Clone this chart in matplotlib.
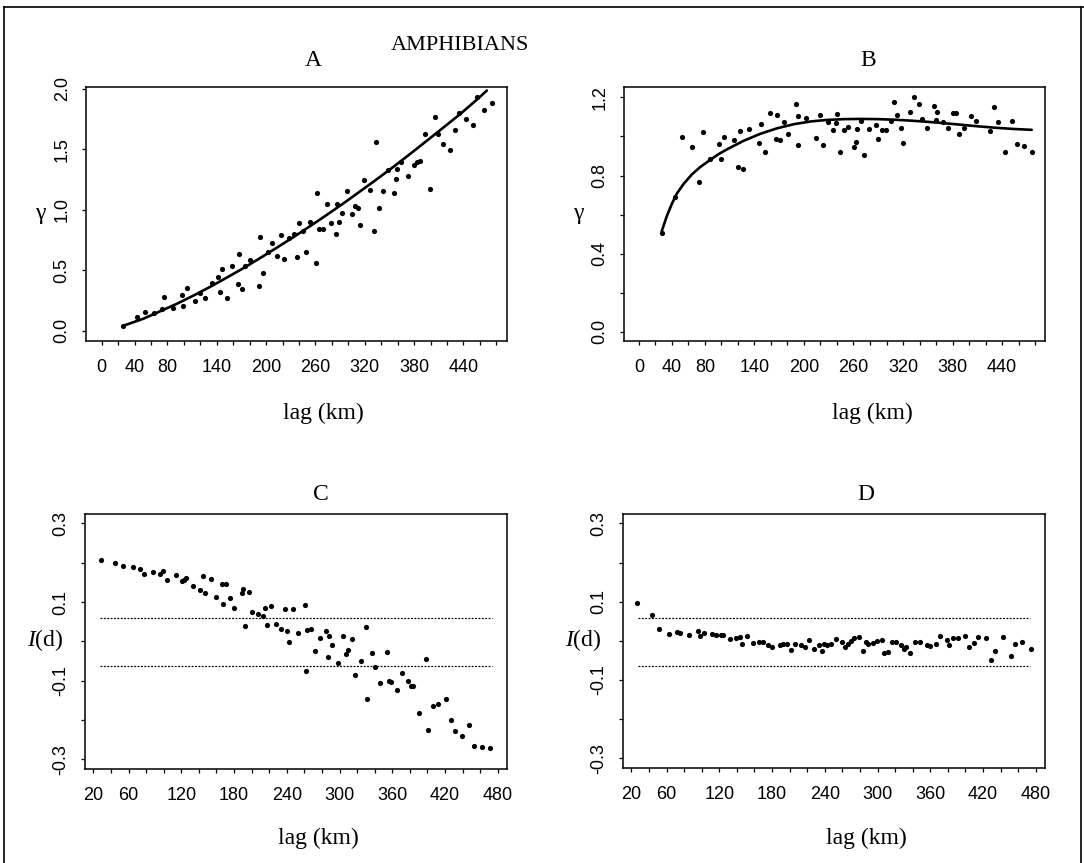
import numpy as np
import matplotlib
matplotlib.use("Agg")
import matplotlib.pyplot as plt
from matplotlib.lines import Line2D

plt.rcParams['mathtext.fontset'] = 'custom'
plt.rcParams['mathtext.rm'] = 'Liberation Serif'
plt.rcParams['mathtext.it'] = 'Liberation Serif:italic'

SERIF = 'Liberation Serif'
SANS = 'Liberation Sans'

# ---- panel A : semivariogram (raw data) ----
a_lag = [26.4, 43.4, 52.7, 64.1, 73.0, 76.3, 87.2, 97.4, 99.4, 103.4, 113.6, 119.7, 125.8,
         133.9, 142.0, 144.0, 146.9, 152.1, 159.0, 165.5, 167.1, 170.4, 174.4, 180.5, 191.5,
         192.7, 196.8, 202.8, 207.7, 213.8, 218.3, 222.3, 228.4, 234.5, 238.1, 240.2, 244.6,
         248.3, 253.5, 260.8, 261.7, 264.9, 269.0, 273.8, 278.7, 285.2, 286.8, 289.2, 292.1,
         298.2, 304.3, 308.3, 311.6, 314.4, 318.5, 325.8, 331.4, 333.9, 337.9, 342.0, 347.7,
         355.0, 357.8, 359.8, 363.9, 373.2, 380.1, 383.4, 386.6, 392.7, 398.8, 404.9, 408.9,
         414.6, 423.9, 429.2, 434.1, 443.0, 451.1, 456.4, 465.3, 474.6]
a_gamma = [0.041, 0.110, 0.151, 0.143, 0.176, 0.275, 0.184, 0.294, 0.204, 0.349, 0.248, 0.308,
           0.272, 0.396, 0.446, 0.316, 0.514, 0.267, 0.536, 0.385, 0.630, 0.344, 0.536, 0.583,
           0.371, 0.776, 0.481, 0.652, 0.729, 0.619, 0.795, 0.594, 0.770, 0.803, 0.613, 0.894,
           0.825, 0.652, 0.900, 0.556, 1.142, 0.839, 0.839, 1.051, 0.894, 0.803, 1.051, 0.900,
           0.974, 1.155, 0.963, 1.032, 1.015, 0.875, 1.249, 1.161, 0.820, 1.560, 1.015, 1.153,
           1.326, 1.139, 1.257, 1.340, 1.395, 1.276, 1.367, 1.395, 1.400, 1.623, 1.169, 1.766,
           1.629, 1.546, 1.491, 1.656, 1.802, 1.747, 1.703, 1.931, 1.821, 1.884]
a_fit_lag = [26.4, 50.7, 71.0, 91.3, 111.6, 131.8, 152.0, 172.4, 192.7, 213.0, 233.0, 253.5,
             274.0, 294.0, 314.0, 334.7, 355.0, 375.0, 395.5, 415.8, 436.0, 456.4, 468.5]
a_fit = [0.041, 0.099, 0.160, 0.222, 0.290, 0.362, 0.438, 0.517, 0.600, 0.686, 0.772, 0.864,
         0.958, 1.052, 1.150, 1.252, 1.355, 1.460, 1.570, 1.680, 1.790, 1.910, 1.985]

# ---- panel B : semivariogram (residuals) ----
b_lag = [27.6, 43.8, 52.7, 64.5, 73.4, 77.5, 86.4, 97.0, 99.8, 103.4, 114.8, 120.0, 123.0,
         126.0, 134.0, 146.0, 148.0, 153.0, 159.0, 166.0, 167.5, 171.0, 175.7, 180.5, 190.0,
         192.7, 192.7, 203.0, 214.0, 219.0, 223.0, 229.6, 235.7, 238.5, 239.8, 243.8, 248.7,
         253.6, 261.0, 263.0, 264.0, 269.0, 273.0, 279.0, 287.0, 290.0, 294.0, 299.0, 306.0,
         309.5, 312.8, 317.0, 320.0, 328.0, 333.0, 339.0, 343.0, 349.0, 357.4, 359.4, 361.5,
         368.0, 374.4, 380.5, 384.6, 387.8, 393.5, 402.0, 409.0, 425.0, 430.4, 435.3, 443.4,
         452.5, 458.0, 466.5, 476.5]
b_gamma = [0.504, 0.692, 0.995, 0.945, 0.769, 1.022, 0.885, 0.961, 0.884, 0.997, 0.983, 0.846,
           1.026, 0.832, 1.039, 0.969, 1.065, 0.918, 1.120, 0.986, 1.108, 0.980, 1.074, 1.014,
           1.166, 1.106, 0.957, 1.097, 0.991, 1.111, 0.954, 1.074, 1.031, 1.068, 1.115, 0.918,
           1.031, 1.048, 0.945, 0.974, 1.038, 1.077, 0.906, 1.038, 1.060, 0.986, 1.031, 1.031,
           1.077, 1.176, 1.111, 1.043, 0.969, 1.125, 1.200, 1.166, 1.089, 1.043, 1.154, 1.086,
           1.128, 1.074, 1.046, 1.120, 1.120, 1.012, 1.043, 1.103, 1.077, 1.026, 1.149, 1.074,
           0.921, 1.081, 0.962, 0.950, 0.922]
b_fit_lag = [27.6, 33.7, 39.8, 45.8, 54.0, 64.1, 74.2, 86.4, 96.0, 106.7, 127.0, 147.3, 167.5,
             187.8, 208.1, 228.4, 249.0, 269.0, 289.0, 309.5, 330.0, 350.1, 370.0, 390.7,
             411.0, 431.2, 452.0, 475.9]
b_fit = [0.513, 0.590, 0.653, 0.706, 0.756, 0.805, 0.843, 0.880, 0.908, 0.934, 0.978, 1.014,
         1.042, 1.063, 1.077, 1.085, 1.089, 1.090, 1.089, 1.086, 1.081, 1.075, 1.068, 1.060,
         1.052, 1.045, 1.039, 1.034]

# ---- panel C : Moran's I correlogram (raw data) ----
c_lag = [28.7, 44.6, 53.4, 64.7, 73.0, 78.0, 87.5, 95.8, 99.6, 104.0, 114.0, 120.5, 123.0,
         125.4, 133.7, 141.0, 145.0, 147.0, 153.5, 159.0, 166.0, 168.0, 171.0, 175.5, 180.0,
         188.7, 190.6, 192.5, 197.0, 201.0, 207.7, 213.0, 215.0, 218.0, 221.7, 227.8, 234.0,
         238.0, 240.0, 243.0, 247.5, 252.4, 260.8, 262.0, 262.7, 267.0, 272.0, 278.0, 284.6,
         286.5, 288.4, 292.0, 298.0, 303.6, 307.4, 310.0, 314.0, 317.6, 325.0, 330.0, 331.7,
         336.6, 340.4, 346.0, 354.4, 356.7, 358.6, 365.0, 370.7, 377.5, 381.0, 384.0, 390.8,
         398.0, 401.0, 406.7, 411.7, 421.0, 426.4, 431.4, 439.0, 447.7, 453.4, 461.7, 471.0]
c_moran = [0.206, 0.199, 0.192, 0.189, 0.184, 0.172, 0.177, 0.172, 0.178, 0.155, 0.169, 0.153,
           0.157, 0.160, 0.140, 0.130, 0.165, 0.123, 0.158, 0.113, 0.147, 0.096, 0.147, 0.110,
           0.085, 0.123, 0.134, 0.040, 0.125, 0.075, 0.070, 0.065, 0.085, 0.041, 0.091, 0.044,
           0.032, 0.082, 0.027, -0.003, 0.082, 0.020, 0.092, -0.076, 0.028, 0.031, -0.024,
           0.008, 0.025, -0.041, 0.013, -0.010, -0.055, 0.013, -0.032, -0.023, 0.006, -0.086,
           -0.051, 0.036, -0.148, -0.031, -0.066, -0.106, -0.028, -0.100, -0.104, -0.125,
           -0.081, -0.102, -0.113, -0.114, -0.182, -0.045, -0.227, -0.165, -0.159, -0.146,
           -0.201, -0.229, -0.242, -0.214, -0.267, -0.269, -0.271]

# ---- panel D : Moran's I correlogram (residuals) ----
d_lag = [26.9, 43.0, 51.7, 63.2, 71.6, 75.8, 85.4, 95.7, 97.6, 102.2, 112.0, 116.7, 122.5,
         124.4, 132.0, 139.0, 143.5, 145.4, 152.0, 158.0, 165.7, 170.3, 175.0, 180.0, 188.6,
         193.0, 197.0, 201.6, 206.6, 213.0, 218.0, 222.0, 227.6, 233.4, 237.0, 239.0, 243.0,
         247.6, 252.5, 260.0, 262.8, 266.0, 269.7, 273.5, 278.5, 284.0, 286.9, 289.6, 294.6,
         299.5, 304.9, 307.9, 311.8, 316.4, 320.6, 326.3, 330.0, 332.8, 336.6, 343.0, 348.0,
         355.8, 359.6, 366.0, 371.0, 378.7, 381.4, 386.3, 392.0, 399.7, 404.3, 409.3, 414.2,
         423.8, 429.0, 434.0, 442.6, 451.3, 455.9, 464.7, 474.3]
d_moran = [0.097, 0.066, 0.030, 0.017, 0.023, 0.020, 0.015, 0.026, 0.013, 0.020, 0.017, 0.015,
           0.015, 0.015, 0.004, 0.006, 0.009, -0.007, 0.011, -0.006, -0.003, -0.003, -0.010,
           -0.015, -0.010, -0.009, -0.007, -0.023, -0.009, -0.011, -0.015, 0.002, -0.020,
           -0.010, -0.026, -0.009, -0.010, -0.009, 0.004, -0.002, -0.017, -0.009, 0.000, 0.006,
           0.009, -0.026, -0.003, -0.009, -0.006, 0.000, 0.002, -0.032, -0.028, -0.003, -0.004,
           -0.010, -0.021, -0.017, -0.030, -0.003, -0.002, -0.010, -0.013, -0.007, 0.013, 0.003,
           -0.010, 0.006, 0.007, 0.013, -0.017, -0.006, 0.010, 0.006, -0.050, -0.026, 0.009,
           -0.038, -0.009, -0.002, -0.021]

# significance bounds of Moran's I
sig_upper = 0.059
sig_lower = -0.064
sig_span = [27.0, 474.0]

ab_ticks = list(range(0, 481, 20))
ab_labels = ['0', '40', '80', '140', '200', '260', '320', '380', '440']
cd_ticks = list(range(20, 481, 20))
cd_labels = ['20', '60', '120', '180', '240', '300', '360', '420', '480']

W, H = 1084, 863
fig = plt.figure(figsize=(W / 100, H / 100), dpi=100)


def add_ax(left, top, right, bottom):
    return fig.add_axes([left / W, 1 - bottom / H, (right - left) / W, (bottom - top) / H])


axA = add_ax(86, 87.5, 507, 341)
axB = add_ax(624, 87.5, 1045, 341)
axC = add_ax(85, 514, 507, 769)
axD = add_ax(623, 514, 1045, 768)


def style(ax, xticks, xlabels):
    for s in ax.spines.values():
        s.set_linewidth(1.1)
    ax.set_xticks(xticks)
    ax.set_xticklabels([t if str(t) in xlabels else '' for t in xticks])
    ax.tick_params(direction='out', length=3, width=0.9, labelsize=13, colors='black')
    ax.tick_params(axis='x', pad=10)
    ax.tick_params(axis='y', pad=8)
    for lab in ax.get_xticklabels() + ax.get_yticklabels():
        lab.set_fontfamily(SANS)
    for lab in ax.get_yticklabels():
        lab.set_rotation(90)
        lab.set_va('center')


# A
axA.scatter(a_lag, a_gamma, s=14, color='black', linewidths=0, zorder=3)
axA.plot(a_fit_lag, a_fit, color='black', lw=1.9, solid_capstyle='round')
axA.set_xlim(-19, 493)
axA.set_ylim(-0.085, 2.01)
axA.set_yticks([0.0, 0.5, 1.0, 1.5, 2.0])
axA.set_yticklabels(['0.0', '0.5', '1.0', '1.5', '2.0'])
style(axA, ab_ticks, ab_labels)

# B
axB.scatter(b_lag, b_gamma, s=14, color='black', linewidths=0, zorder=3)
axB.plot(b_fit_lag, b_fit, color='black', lw=1.9, solid_capstyle='round')
axB.set_xlim(-18, 492)
axB.set_ylim(-0.048, 1.251)
b_yt = [0.0, 0.2, 0.4, 0.6, 0.8, 1.0, 1.2]
axB.set_yticks(b_yt)
axB.set_yticklabels(['0.0', '', '0.4', '', '0.8', '', '1.2'])
style(axB, ab_ticks, ab_labels)

# C and D
cd_yt = [-0.3, -0.2, -0.1, 0.0, 0.1, 0.2, 0.3]
cd_yl = ['-0.3', '', '-0.1', '', '0.1', '', '0.3']
for ax, lag, val in [(axC, c_lag, c_moran), (axD, d_lag, d_moran)]:
    ax.scatter(lag, val, s=14, color='black', linewidths=0, zorder=3)
    for yv in (sig_upper, sig_lower):
        ax.plot(sig_span, [yv, yv], color='black', lw=0.9, ls=(0, (1.5, 1.2)))
    ax.set_xlim(10.5, 490.5)
    ax.set_ylim(-0.325, 0.324)
    ax.set_yticks(cd_yt)
    ax.set_yticklabels(cd_yl)
    style(ax, cd_ticks, cd_labels)

# titles, axis labels
fig.text(460 / W, 1 - 46 / H, 'AMPHIBIANS', family=SERIF, fontsize=16, ha='center', va='center')
for ax, letter, xf, ty in [(axA, 'A', 0.54, 60), (axB, 'B', 0.58, 60),
                           (axC, 'C', 0.559, 494), (axD, 'D', 0.576, 494)]:
    bb = ax.get_position()
    fig.text(bb.x0 + xf * bb.width, 1 - ty / H, letter, family=SERIF, fontsize=17,
             ha='center', va='center')

for ax, xf, ly in [(axA, 0.563, 413), (axB, 0.59, 413), (axC, 0.552, 838), (axD, 0.576, 838)]:
    bb = ax.get_position()
    fig.text(bb.x0 + xf * bb.width, 1 - ly / H, 'lag (km)', family=SERIF, fontsize=17,
             ha='center', va='center')

fig.text(40 / W, 1 - 213 / H, 'γ', family=SERIF, fontsize=17, ha='center', va='center')
fig.text(578 / W, 1 - 213 / H, 'γ', family=SERIF, fontsize=17, ha='center', va='center')
fig.text(45 / W, 1 - 640 / H, r'$I$(d)', family=SERIF, fontsize=17, ha='center', va='center')
fig.text(583 / W, 1 - 640 / H, r'$I$(d)', family=SERIF, fontsize=17, ha='center', va='center')

# page frame
for xs, ys in [([3.5, 3.5], [7, 863]), ([3.5, 1084], [7, 7]), ([1080.5, 1080.5], [7, 863])]:
    fig.add_artist(Line2D([x / W for x in xs], [1 - y / H for y in ys], color='black', lw=1.2))

fig.savefig('out.png', dpi=100, facecolor='white')
